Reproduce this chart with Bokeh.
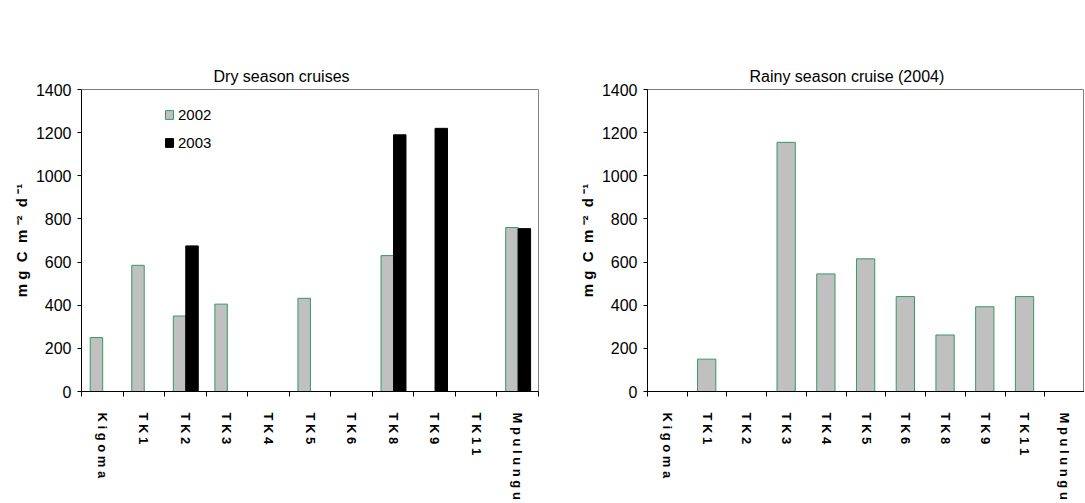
import math
import numpy as np
from bokeh.plotting import figure
from bokeh.models import (FactorRange, Range1d, LinearAxis, CategoricalAxis, FixedTicker, Title,
                          Legend, LegendItem, ColumnDataSource, CustomJSTickFormatter,
                          CustomLabelingPolicy)
from bokeh.layouts import row
from bokeh.transform import dodge
from bokeh.embed import file_html
from bokeh.resources import INLINE

# ---- data ----
stations = ["Kigoma", "TK1", "TK2", "TK3", "TK4", "TK5", "TK6", "TK8", "TK9", "TK11", "Mpulungu"]
dry_2002 = [250, 585, 350, 405, None, 432, None, 630, None, None, 760]
dry_2003 = [None, None, 675, None, None, None, None, 1190, 1220, None, 755]
rainy_2004 = [None, 150, None, 1155, 545, 615, 440, 262, 393, 440, None]
y_ticks = [0, 200, 400, 600, 800, 1000, 1200, 1400]
titles = ["Dry season cruises", "Rainy season cruise (2004)"]
legend_labels = ["2002", "2003"]
NB = "\u00a0"
y_label = f"m{NB}g{NB}{NB}C{NB}{NB}m{NB}\u207b\u00b2{NB}{NB}d{NB}\u207b\u00b9"

FONT = "Liberation Sans"
GRAY = "#c0c0c0"
GREEN = "#339966"
Y_MAX = 1400
FRAME_H = 306
FIG_H = 502
TOP = 89


def arr(v):
    return np.array([np.nan if x is None else x for x in v], dtype=float)


def make_fig(width, min_left, min_right, title, title_offset):
    p = figure(x_range=FactorRange(*stations), y_range=Range1d(0, Y_MAX),
               width=width, height=FIG_H, output_backend="svg", toolbar_location=None,
               min_border_left=min_left, min_border_right=min_right,
               min_border_top=TOP, min_border_bottom=FIG_H - TOP - FRAME_H,
               x_axis_location=None)
    p.grid.visible = False
    p.outline_line_color = "#808080"
    p.outline_line_width = 1
    p.background_fill_color = "white"
    p.border_fill_color = "white"

    # default (innermost) title unused
    p.title.text = ""
    p.title.visible = False
    p.title.standoff = 0
    p.title.text_font_size = "1px"

    # empty spacer panel between the frame and the title
    spacer = LinearAxis(ticker=FixedTicker(ticks=[]), major_tick_out=48, major_tick_in=0,
                        minor_tick_out=0, minor_tick_in=0, axis_line_color=None,
                        major_tick_line_color=None, minor_tick_line_color=None)
    p.add_layout(spacer, "above")
    p.add_layout(Title(text=title, align="left", vertical_align="bottom", offset=title_offset,
                       standoff=10, text_font=FONT, text_font_size="16px",
                       text_font_style="normal", text_color="black"), "above")

    ya = p.yaxis[0]
    ya.ticker = FixedTicker(ticks=y_ticks)
    ya.major_tick_out = 4
    ya.major_tick_in = 0
    ya.minor_tick_out = 0
    ya.minor_tick_in = 0
    ya.axis_line_color = "black"
    ya.major_tick_line_color = "black"
    ya.major_label_standoff = 6
    ya.major_label_text_font = FONT
    ya.major_label_text_font_size = "16px"
    ya.major_label_text_color = "black"
    ya.axis_label = y_label
    ya.axis_label_text_font = FONT
    ya.axis_label_text_font_size = "15px"
    ya.axis_label_text_font_style = "bold"
    ya.axis_label_text_color = "black"
    ya.axis_label_standoff = 3

    # tick marks at the category boundaries (synthetic coordinates 0..n), no labels
    n = len(stations)
    tick_axis = LinearAxis(ticker=FixedTicker(ticks=list(range(n + 1))),
                           major_tick_out=5, major_tick_in=0, minor_tick_out=0, minor_tick_in=0,
                           major_label_standoff=0, major_label_text_font_size="1px",
                           axis_line_color="black", major_tick_line_color="black",
                           major_label_policy=CustomLabelingPolicy(code=""))
    p.add_layout(tick_axis, "below")

    # category labels at the category centres, letter-spaced
    cat_axis = CategoricalAxis(axis_line_color=None, major_tick_line_color=None,
                               major_tick_out=0, major_tick_in=0,
                               major_label_orientation=-math.pi / 2,
                               major_label_standoff=12,
                               major_label_text_font=FONT,
                               major_label_text_font_size="13px",
                               major_label_text_font_style="bold",
                               major_label_text_color="black",
                               formatter=CustomJSTickFormatter(code="return tick.split('').join(' ')"))
    p.add_layout(cat_axis, "below")
    return p


# ---- left: dry season ----
src1 = ColumnDataSource(dict(station=stations, v2002=arr(dry_2002), v2003=arr(dry_2003)))
p1 = make_fig(568, 81, 30, titles[0], 132)
r02 = p1.vbar(x=dodge("station", -0.14, range=p1.x_range), top="v2002", width=0.3, source=src1,
              fill_color=GRAY, line_color=GREEN, line_width=1)
r03 = p1.vbar(x=dodge("station", 0.16, range=p1.x_range), top="v2003", width=0.3, source=src1,
              fill_color="black", line_color="black", line_width=1)
legend = Legend(items=[LegendItem(label=legend_labels[0], renderers=[r02]),
                       LegendItem(label=legend_labels[1], renderers=[r03])],
                location=(83, 240), border_line_color=None, background_fill_alpha=0,
                glyph_width=10, glyph_height=11, label_height=11, spacing=11,
                padding=0, margin=0, label_standoff=4,
                label_text_font=FONT, label_text_font_size="15px", label_text_color="black")
p1.add_layout(legend)

# ---- right: rainy season ----
src2 = ColumnDataSource(dict(station=stations, v2004=arr(rainy_2004)))
p2 = make_fig(516, 79, 0, titles[1], 102)
p2.vbar(x=dodge("station", -0.01, range=p2.x_range), top="v2004", width=0.46, source=src2,
        fill_color=GRAY, line_color=GREEN, line_width=1)

layout = row(p1, p2)
open("out.html", "w").write(file_html(layout, INLINE))
